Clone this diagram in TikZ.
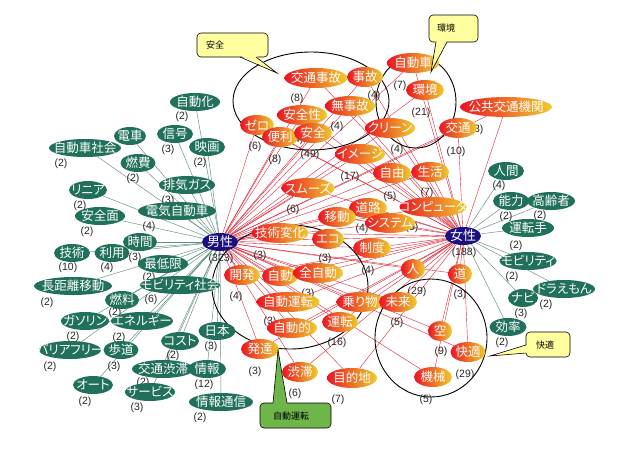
\documentclass[tikz,border=0pt]{standalone}
\usepackage{fontspec}
\setmainfont{Noto Sans CJK JP}[RawFeature=+palt]
\newfontfamily\latf{Liberation Sans}
\usetikzlibrary{shapes.geometric}
\pgfdeclarelayer{paper}
\pgfdeclarelayer{edges}
\pgfdeclarelayer{marks}
\pgfsetlayers{paper,edges,marks,main}
\definecolor{gfill}{RGB}{32,112,92}
\definecolor{gline}{RGB}{95,140,128}
\definecolor{rline}{RGB}{222,35,55}
\definecolor{rleft}{RGB}{236,20,36}
\definecolor{rmid}{RGB}{238,45,30}
\definecolor{rright}{RGB}{238,205,45}
\definecolor{navy}{RGB}{28,16,128}
\definecolor{cyel}{RGB}{255,255,160}
\definecolor{cgrn}{RGB}{110,182,74}
\tikzset{
  base/.style={shape=ellipse, inner xsep=-300pt, inner ysep=-300pt, text=white, font=\fontsize{12.5}{12.5}\selectfont},
  R/.style={base, minimum width=#1pt, minimum height=20pt, left color=rleft, middle color=rmid, right color=rright},
  G/.style={base, minimum width=#1pt, minimum height=18pt, fill=gfill},
  B/.style={base, minimum width=36pt, minimum height=18pt, fill=navy, font=\fontsize{13}{13}\selectfont},
  cnt/.style={font=\latf\fontsize{10.5}{10.5}\selectfont, text=black!85, inner sep=0pt},
  gedge/.style={draw=gline, line width=0.45pt},
  redge/.style={draw=rline, line width=0.4pt},
  ring/.style={draw=black, line width=0.9pt},
  callout/.style={draw=black, line width=0.6pt},
  ctext/.style={font=\fontsize{9}{9}\selectfont, text=black, inner sep=0pt}
}
\begin{document}
\begin{tikzpicture}[x=1pt,y=-1pt]
\useasboundingbox (0,0) rectangle (623,448);
\begin{pgfonlayer}{paper}
\fill[white] (0,0) rectangle (623,448);
\end{pgfonlayer}

% hubs
\node[B] (m) at (220,242) {男性};
\node[B] (f) at (463,236) {女性};

% red (shared) words
\node[R=63] (kjiko) at (316,78) {交通事故};
\node[R=36] (jiko) at (365,77) {事故};
\node[R=52] (jidosha) at (413,63) {自動車};
\node[R=38] (kankyo) at (425,90) {環境};
\node[R=50] (mujiko) at (350,106) {無事故};
\node[R=50] (anzensei) at (302,115) {安全性};
\node[R=34] (zero) at (257,125) {ゼロ};
\node[R=36] (benri) at (280,137) {便利};
\node[R=38] (anzen) at (313,133) {安全};
\node[R=50] (clean) at (390,128) {クリーン};
\node[R=38] (kotsu) at (458,128) {交通};
\node[R=92] (kokyo) at (506,107) {公共交通機関};
\node[R=50] (image) at (360,154) {イメージ};
\node[R=38] (jiyu) at (392,173) {自由};
\node[R=38] (seikatsu) at (430,172) {生活};
\node[R=53] (smooth) at (308,188) {スムーズ};
\node[R=67] (computer) at (433,207) {コンピュータ};
\node[R=38] (doro) at (368,208) {道路};
\node[R=38] (ido) at (337,217) {移動};
\node[R=50] (system) at (390,223) {システム};
\node[R=57] (ghenka) at (280,233) {技術変化};
\node[R=32] (eco) at (328,239) {エコ};
\node[R=38] (seido) at (372,248) {制度};
\node[R=24] (hito) at (413,269) {人};
\node[R=24] (michi) at (460,274) {道};
\node[R=36] (kaihatsu) at (242,275) {開発};
\node[R=36] (jido) at (280,276) {自動};
\node[R=50] (zenjido) at (318,273) {全自動};
\node[R=63] (jidounten) at (288,302) {自動運転};
\node[R=47] (norimono) at (360,302) {乗り物};
\node[R=38] (mirai) at (398,302) {未来};
\node[R=36] (unten) at (340,322) {運転};
\node[R=50] (jidoteki) at (292,328) {自動的};
\node[R=38] (hattatsu) at (260,349) {発達};
\node[R=36] (jutai) at (300,372) {渋滞};
\node[R=50] (mokuteki) at (352,378) {目的地};
\node[R=24] (sora) at (440,331) {空};
\node[R=35] (kaiteki) at (468,352) {快適};
\node[R=38] (kikai) at (433,377) {機械};

% green words (male side)
\node[G=50] (gjidoka) at (195,102) {自動化};
\node[G=32] (gdensha) at (130,136) {電車};
\node[G=36] (gshingo) at (175,134) {信号};
\node[G=36] (geiga) at (207,147) {映画};
\node[G=72] (gshakai) at (85,148) {自動車社会};
\node[G=35] (gnenpi) at (138,163) {燃費};
\node[G=56] (ghaiki) at (187,185) {排気ガス};
\node[G=38] (glinear) at (88,190) {リニア};
\node[G=50] (ganzenmen) at (100,216) {安全面};
\node[G=78] (gdenki) at (177,211) {電気自動車};
\node[G=34] (gjikan) at (140,242) {時間};
\node[G=36] (ggijutsu) at (72,253) {技術};
\node[G=35] (griyo) at (112,253) {利用};
\node[G=50] (gsaitei) at (163,264) {最低限};
\node[G=78] (gchokyori) at (73,286) {長距離移動};
\node[G=80] (gmobshakai) at (180,285) {モビリティ社会};
\node[G=34] (gnenryo) at (122,300) {燃料};
\node[G=48] (ggasoline) at (85,321) {ガソリン};
\node[G=62] (genergy) at (142,321) {エネルギー};
\node[G=62] (gbarrier) at (70,350) {バリアフリー};
\node[G=35] (ghodo) at (121,350) {歩道};
\node[G=38] (gcost) at (180,341) {コスト};
\node[G=37] (gnihon) at (217,331) {日本};
\node[G=62] (gkjutai) at (163,369) {交通渋滞};
\node[G=38] (gjoho) at (207,369) {情報};
\node[G=40] (gauto) at (93,385) {オート};
\node[G=50] (gservice) at (150,392) {サービス};
\node[G=64] (gjtsushin) at (221,402) {情報通信};

% green words (female side)
\node[G=36] (fningen) at (506,171) {人間};
\node[G=36] (fnoryoku) at (511,201) {能力};
\node[G=48] (fkorei) at (551,201) {高齢者};
\node[G=52] (funtenshu) at (528,228) {運転手};
\node[G=57] (fmob) at (528,261) {モビリティ};
\node[G=62] (fdora) at (564,289) {ドラえもん};
\node[G=30] (fnavi) at (523,298) {ナビ};
\node[G=37] (fkoritsu) at (508,327) {効率};

% edges
\begin{pgfonlayer}{edges}
\foreach \n in {kjiko,jiko,jidosha,kankyo,mujiko,anzensei,zero,benri,anzen,clean,kotsu,kokyo,image,jiyu,seikatsu,smooth,computer,doro,ido,system,ghenka,eco,seido,hito,michi,kaihatsu,jido,zenjido,jidounten,norimono,mirai,unten,jidoteki,hattatsu,jutai,mokuteki,sora,kaiteki,kikai}{
  \draw[redge] (m) -- (\n);
  \draw[redge] (f) -- (\n);
}
\foreach \n in {gjidoka,gdensha,gshingo,geiga,gshakai,gnenpi,ghaiki,glinear,ganzenmen,gdenki,gjikan,ggijutsu,griyo,gsaitei,gchokyori,gmobshakai,gnenryo,ggasoline,genergy,gbarrier,ghodo,gcost,gnihon,gkjutai,gjoho,gauto,gservice,gjtsushin}{
  \draw[gedge] (m) -- (\n);
}
\foreach \n in {fningen,fnoryoku,fkorei,funtenshu,fmob,fdora,fnavi,fkoritsu}{
  \draw[gedge] (f) -- (\n);
}
\end{pgfonlayer}

% rings and counts
\begin{pgfonlayer}{marks}
\draw[ring] (311,101) ellipse [x radius=78pt, y radius=49pt];
\draw[ring] (416,102) ellipse [x radius=40pt, y radius=46pt];
\draw[ring] (290,287) ellipse [x radius=78pt, y radius=62pt];
\draw[ring] (431,338) ellipse [x radius=56pt, y radius=59pt];

\node[cnt] (c01) at (221,259) {(323)};
\node[cnt] (c02) at (464,253) {(188)};
\node[cnt] (c03) at (297,99) {(8)};
\node[cnt] (c04) at (374,96) {(4)};
\node[cnt] (c05) at (337,127) {(4)};
\node[cnt] (c06) at (297,140) {(4)};
\node[cnt] (c07) at (255,147) {(6)};
\node[cnt] (c08) at (275,160) {(8)};
\node[cnt] (c09) at (310,155) {(49)};
\node[cnt] (c10) at (400,86) {(7)};
\node[cnt] (c11) at (421,113) {(21)};
\node[cnt] (c12) at (397,150) {(4)};
\node[cnt] (c13) at (477,130) {(3)};
\node[cnt] (c14) at (456,152) {(10)};
\node[cnt] (c15) at (350,177) {(17)};
\node[cnt] (c16) at (390,197) {(5)};
\node[cnt] (c17) at (427,193) {(7)};
\node[cnt] (c18) at (293,210) {(6)};
\node[cnt] (c19) at (362,229) {(4)};
\node[cnt] (c20) at (412,228) {(9)};
\node[cnt] (c21) at (260,256) {(3)};
\node[cnt] (c22) at (325,259) {(3)};
\node[cnt] (c23) at (368,271) {(4)};
\node[cnt] (c24) at (417,292) {(29)};
\node[cnt] (c25) at (460,295) {(3)};
\node[cnt] (c26) at (236,297) {(4)};
\node[cnt] (c27) at (308,294) {(3)};
\node[cnt] (c28) at (270,322) {(3)};
\node[cnt] (c29) at (337,343) {(16)};
\node[cnt] (c30) at (397,323) {(5)};
\node[cnt] (c31) at (255,372) {(3)};
\node[cnt] (c32) at (295,394) {(6)};
\node[cnt] (c33) at (338,400) {(7)};
\node[cnt] (c34) at (441,352) {(9)};
\node[cnt] (c35) at (465,375) {(29)};
\node[cnt] (c36) at (426,400) {(5)};
\node[cnt] (c37) at (182,117) {(2)};
\node[cnt] (c38) at (168,150) {(3)};
\node[cnt] (c39) at (200,163) {(2)};
\node[cnt] (c40) at (61,164) {(2)};
\node[cnt] (c41) at (133,179) {(2)};
\node[cnt] (c42) at (168,201) {(3)};
\node[cnt] (c43) at (80,206) {(2)};
\node[cnt] (c44) at (87,232) {(2)};
\node[cnt] (c45) at (149,227) {(4)};
\node[cnt] (c46) at (135,258) {(3)};
\node[cnt] (c47) at (68,268) {(10)};
\node[cnt] (c48) at (107,268) {(4)};
\node[cnt] (c49) at (149,278) {(2)};
\node[cnt] (c50) at (47,303) {(2)};
\node[cnt] (c51) at (151,300) {(6)};
\node[cnt] (c52) at (115,313) {(2)};
\node[cnt] (c53) at (73,337) {(2)};
\node[cnt] (c54) at (119,338) {(2)};
\node[cnt] (c55) at (50,367) {(2)};
\node[cnt] (c56) at (114,367) {(3)};
\node[cnt] (c57) at (173,356) {(2)};
\node[cnt] (c58) at (211,347) {(3)};
\node[cnt] (c59) at (143,383) {(2)};
\node[cnt] (c60) at (204,385) {(12)};
\node[cnt] (c61) at (85,402) {(2)};
\node[cnt] (c62) at (137,408) {(3)};
\node[cnt] (c63) at (200,418) {(2)};
\node[cnt] (c64) at (499,186) {(4)};
\node[cnt] (c65) at (506,217) {(2)};
\node[cnt] (c66) at (540,216) {(2)};
\node[cnt] (c67) at (516,246) {(2)};
\node[cnt] (c68) at (512,277) {(2)};
\node[cnt] (c69) at (546,305) {(2)};
\node[cnt] (c70) at (521,314) {(3)};
\node[cnt] (c71) at (502,343) {(2)};
\end{pgfonlayer}

% callouts
\filldraw[callout, fill=cyel, rounded corners=4pt] (197,33) rectangle (268,57);
\fill[cyel] (240,55.5) -- (277,73) -- (256,55.5) -- cycle;
\draw[callout] (240,57) -- (277,73) -- (256,57);
\node[ctext] (t1) at (215,45) {安全};

\filldraw[callout, fill=cyel, rounded corners=4pt] (429,15) rectangle (478,42);
\fill[cyel] (436,40.5) -- (431,72) -- (447,40.5) -- cycle;
\draw[callout] (436,42) -- (431,72) -- (447,42);
\node[ctext] (t2) at (446,28) {環境};

\filldraw[callout, fill=cgrn, rounded corners=4pt] (260,403) rectangle (331,428);
\fill[cgrn] (273,404.5) -- (278,350) -- (287,404.5) -- cycle;
\draw[callout] (273,403) -- (278,350) -- (287,403);
\node[ctext] (t3) at (291,416) {自動運転};

\filldraw[callout, fill=cyel, rounded corners=4pt] (526,332) rectangle (570,357);
\fill[cyel] (527.5,345) -- (490,356) -- (527.5,353) -- cycle;
\draw[callout] (526,345) -- (490,356) -- (526,353);
\node[ctext] (t4) at (545,345) {快適};
\end{tikzpicture}
\end{document}
